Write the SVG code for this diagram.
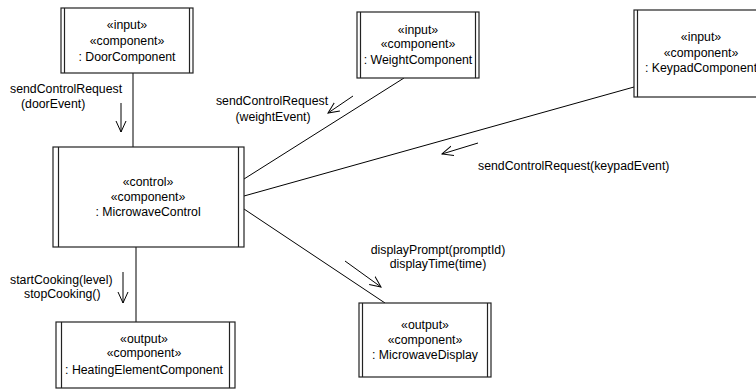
<svg xmlns="http://www.w3.org/2000/svg" width="756" height="390" viewBox="0 0 756 390">
<defs>
<marker id="open" viewBox="0 0 12 12" refX="11" refY="6" markerWidth="12" markerHeight="12" markerUnits="userSpaceOnUse" orient="auto">
<polyline points="0,1 11,6 0,11" fill="none" stroke="#000" stroke-width="1"/>
</marker>
<style>
.box{fill:#fff;stroke:#222;stroke-width:1.2}
.bar{stroke:#222;stroke-width:1.2}
.t{font-family:"Liberation Sans",Arial,sans-serif;font-size:12.3px;fill:#000}
.c{text-anchor:middle}
.ln{stroke:#000;stroke-width:1;fill:none}
.ar{stroke:#000;stroke-width:1;fill:none;marker-end:url(#open)}
</style>
</defs>
<rect width="756" height="390" fill="#fff"/>
<g id="connectors">
<line class="ln" x1="133" y1="73" x2="133" y2="147"/>
<line class="ln" x1="404" y1="78" x2="244" y2="179"/>
<line class="ln" x1="634" y1="87" x2="244" y2="196"/>
<line class="ln" x1="244" y1="209" x2="385" y2="303"/>
<line class="ln" x1="136" y1="247" x2="136" y2="322"/>
<line class="ar" x1="121" y1="103" x2="121" y2="132"/>
<line class="ar" x1="353" y1="96" x2="328" y2="113"/>
<line class="ar" x1="478" y1="143" x2="442" y2="154"/>
<line class="ar" x1="345" y1="261" x2="381" y2="287"/>
<line class="ar" x1="123" y1="272" x2="123" y2="303"/>
<text class="t" x="10" y="93">sendControlRequest</text>
<text class="t" x="21" y="108">(doorEvent)</text>
<text class="t c" x="272" y="105">sendControlRequest</text>
<text class="t c" x="273" y="121">(weightEvent)</text>
<text class="t" x="478" y="170">sendControlRequest(keypadEvent)</text>
<text class="t c" x="438" y="254">displayPrompt(promptId)</text>
<text class="t c" x="438" y="268">displayTime(time)</text>
<text class="t" x="10" y="284">startCooking(level)</text>
<text class="t" x="24" y="298">stopCooking()</text>
</g>
<g id="door">
<rect class="box" x="61" y="8" width="132" height="65"/>
<line class="bar" x1="64.5" y1="8" x2="64.5" y2="73"/>
<line class="bar" x1="189.5" y1="8" x2="189.5" y2="73"/>
<text class="t c" x="127" y="29">«input»</text>
<text class="t c" x="127" y="45">«component»</text>
<text class="t c" x="127" y="61">: DoorComponent</text>
</g>
<g id="weight">
<rect class="box" x="357" y="12" width="122" height="66"/>
<line class="bar" x1="360.5" y1="12" x2="360.5" y2="78"/>
<line class="bar" x1="475.5" y1="12" x2="475.5" y2="78"/>
<text class="t c" x="418" y="34">«input»</text>
<text class="t c" x="418" y="48">«component»</text>
<text class="t c" x="418" y="64">: WeightComponent</text>
</g>
<g id="keypad">
<rect class="box" x="634" y="10" width="140" height="87"/>
<line class="bar" x1="637.5" y1="10" x2="637.5" y2="97"/>
<text class="t c" x="701" y="41">«input»</text>
<text class="t c" x="701" y="57">«component»</text>
<text class="t c" x="701" y="72">: KeypadComponent</text>
</g>
<g id="control">
<rect class="box" x="53" y="147" width="191" height="100"/>
<line class="bar" x1="58.5" y1="147" x2="58.5" y2="247"/>
<line class="bar" x1="238.5" y1="147" x2="238.5" y2="247"/>
<text class="t c" x="148" y="186">«control»</text>
<text class="t c" x="148" y="201">«component»</text>
<text class="t c" x="148" y="216">: MicrowaveControl</text>
</g>
<g id="display">
<rect class="box" x="359" y="303" width="132" height="74"/>
<line class="bar" x1="362.5" y1="303" x2="362.5" y2="377"/>
<line class="bar" x1="487.5" y1="303" x2="487.5" y2="377"/>
<text class="t c" x="425" y="329">«output»</text>
<text class="t c" x="425" y="344">«component»</text>
<text class="t c" x="425" y="359">: MicrowaveDisplay</text>
</g>
<g id="heating">
<rect class="box" x="56" y="322" width="179" height="66"/>
<line class="bar" x1="61.5" y1="322" x2="61.5" y2="388"/>
<line class="bar" x1="229.5" y1="322" x2="229.5" y2="388"/>
<text class="t c" x="144" y="343">«output»</text>
<text class="t c" x="144" y="357">«component»</text>
<text class="t c" x="144" y="374">: HeatingElementComponent</text>
</g>
</svg>
